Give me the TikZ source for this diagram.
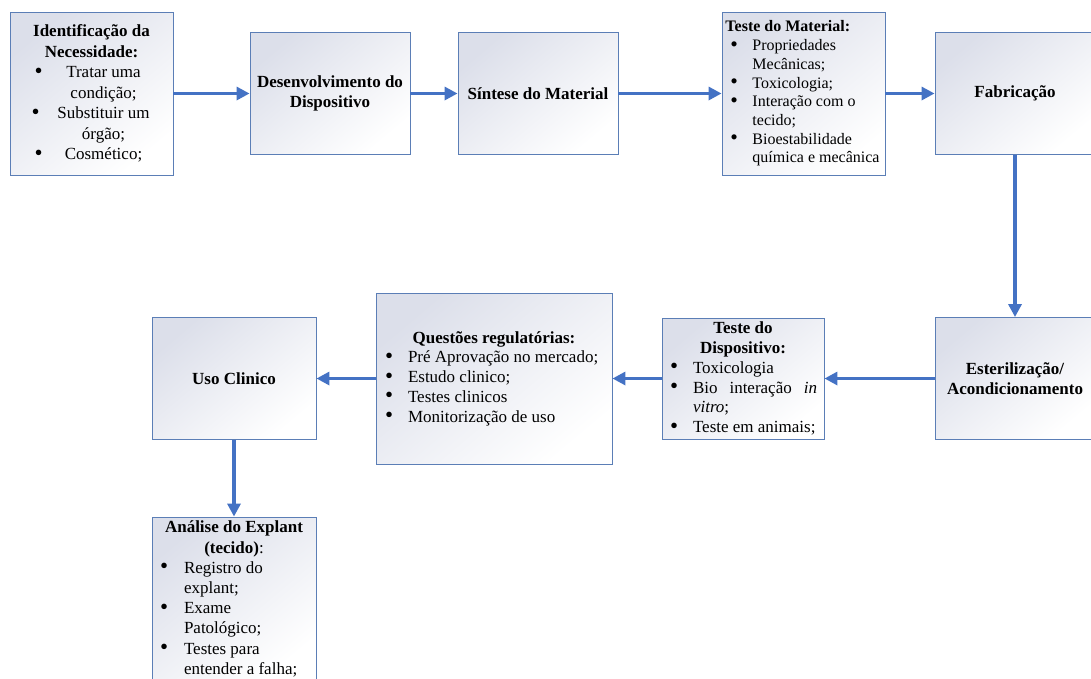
\documentclass[tikz,border=0pt]{standalone}
\usepackage{fontspec}
\usepackage{graphicx}
\setmainfont{Liberation Serif}
\definecolor{boxline}{HTML}{5B7EB6}
\definecolor{boxtop}{HTML}{DCDFEA}
\definecolor{arrowblue}{HTML}{4472C4}
\usetikzlibrary{arrows.meta}
\newcommand{\bigbul}{\raisebox{-0.4pt}{\scalebox{1.35}{\textbullet}}}
\newcommand{\bul}[1]{\makebox[#1][l]{\hspace{3pt}\bigbul}}
\begin{document}
\begin{tikzpicture}[x=1pt,y=-1pt,
  stagebox/.style={draw=boxline, line width=0.9pt, top color=boxtop, bottom color=white, shading angle=40,
    inner sep=0pt, align=center, font=\fontsize{17}{20.5}\selectfont},
  flow/.style={draw=arrowblue, line width=3.2pt, -{Triangle[length=13pt,width=13pt]}}
]
\useasboundingbox (0,0) rectangle (1091,678);

% top row
\node[stagebox, minimum width=163pt, minimum height=163pt] (need) at (91.5,93.5)
{\textbf{Identificação da}\\\textbf{Necessidade:}\\
\makebox[24pt][l]{\hspace{3pt}\bigbul}\makebox[96pt]{Tratar uma}\\
\makebox[24pt]{}\makebox[96pt]{condição;}\\
\makebox[24pt][l]{\bigbul}\makebox[96pt]{Substituir um}\\
\makebox[24pt]{}\makebox[96pt]{órgão;}\\
\makebox[24pt][l]{\hspace{3pt}\bigbul}\makebox[96pt]{Cosmético;}};

\node[stagebox, minimum width=160pt, minimum height=122pt] (dev) at (330,93.5)
{\textbf{Desenvolvimento do}\\\textbf{Dispositivo}};

\node[stagebox, minimum width=160pt, minimum height=122pt] (syn) at (538,93.5)
{\textbf{Síntese do Material}};

\node[stagebox, minimum width=163pt, minimum height=163pt, align=left,
  font=\fontsize{16}{18.7}\selectfont] (mtest) at (803.5,93.5)
{\hspace*{-2pt}\textbf{Teste do Material:}\\
\bul{25pt}Propriedades\\
\hspace*{25pt}Mecânicas;\\
\bul{25pt}Toxicologia;\\
\bul{25pt}Interação com o\\
\hspace*{25pt}tecido;\\
\bul{25pt}Bioestabilidade\\
\hspace*{25pt}química e mecânica};

\node[stagebox, minimum width=160pt, minimum height=122pt] (fab) at (1015,93.5)
{\textbf{Fabricação}};

% middle row
\node[stagebox, minimum width=160pt, minimum height=122pt] (ster) at (1015,378.5)
{\textbf{Esterilização/}\\\textbf{Acondicionamento}};

\node[stagebox, minimum width=162pt, minimum height=121pt, align=left,
  font=\fontsize{17}{19.8}\selectfont] (dtest) at (743,378.5)
{\makebox[152pt][c]{\textbf{Teste do}}\\
\makebox[152pt][c]{\textbf{Dispositivo:}}\\
\bul{26pt}Toxicologia\\
\bul{26pt}\makebox[124pt][s]{Bio\hfill interação\hfill\textit{in}}\\
\hspace*{26pt}\textit{vitro};\\
\bul{26pt}Teste em animais;};

\node[stagebox, minimum width=236pt, minimum height=171pt, align=left,
  font=\fontsize{17}{19.8}\selectfont] (reg) at (494,378.5)
{\makebox[224pt][c]{\textbf{Questões regulatórias:}}\\
\bul{26pt}Pré Aprovação no mercado;\\
\bul{26pt}Estudo clinico;\\
\bul{26pt}Testes clinicos\\
\bul{26pt}Monitorização de uso};

\node[stagebox, minimum width=164pt, minimum height=122pt] (use) at (234,378.5)
{\textbf{Uso Clinico}};

% bottom
\node[stagebox, minimum width=164pt, minimum height=164pt, align=left,
  font=\fontsize{17}{20.2}\selectfont] (expl) at (234,599)
{\makebox[154pt][c]{\textbf{Análise do Explant}}\\
\makebox[154pt][c]{\textbf{(tecido)}:}\\
\bul{27pt}Registro do\\
\hspace*{27pt}explant;\\
\bul{27pt}Exame\\
\hspace*{27pt}Patológico;\\
\bul{27pt}Testes para\\
\hspace*{27pt}entender a falha;};

% connectors
\draw[flow] (need.east) -- (dev.west);
\draw[flow] (dev.east) -- (syn.west);
\draw[flow] (syn.east) -- (mtest.west);
\draw[flow] (mtest.east) -- (fab.west);
\draw[flow] (fab.south) -- (ster.north);
\draw[flow] (ster.west) -- (dtest.east);
\draw[flow] (dtest.west) -- (reg.east);
\draw[flow] (reg.west) -- (use.east);
\draw[flow] (use.south) -- (expl.north);
\end{tikzpicture}
\end{document}
